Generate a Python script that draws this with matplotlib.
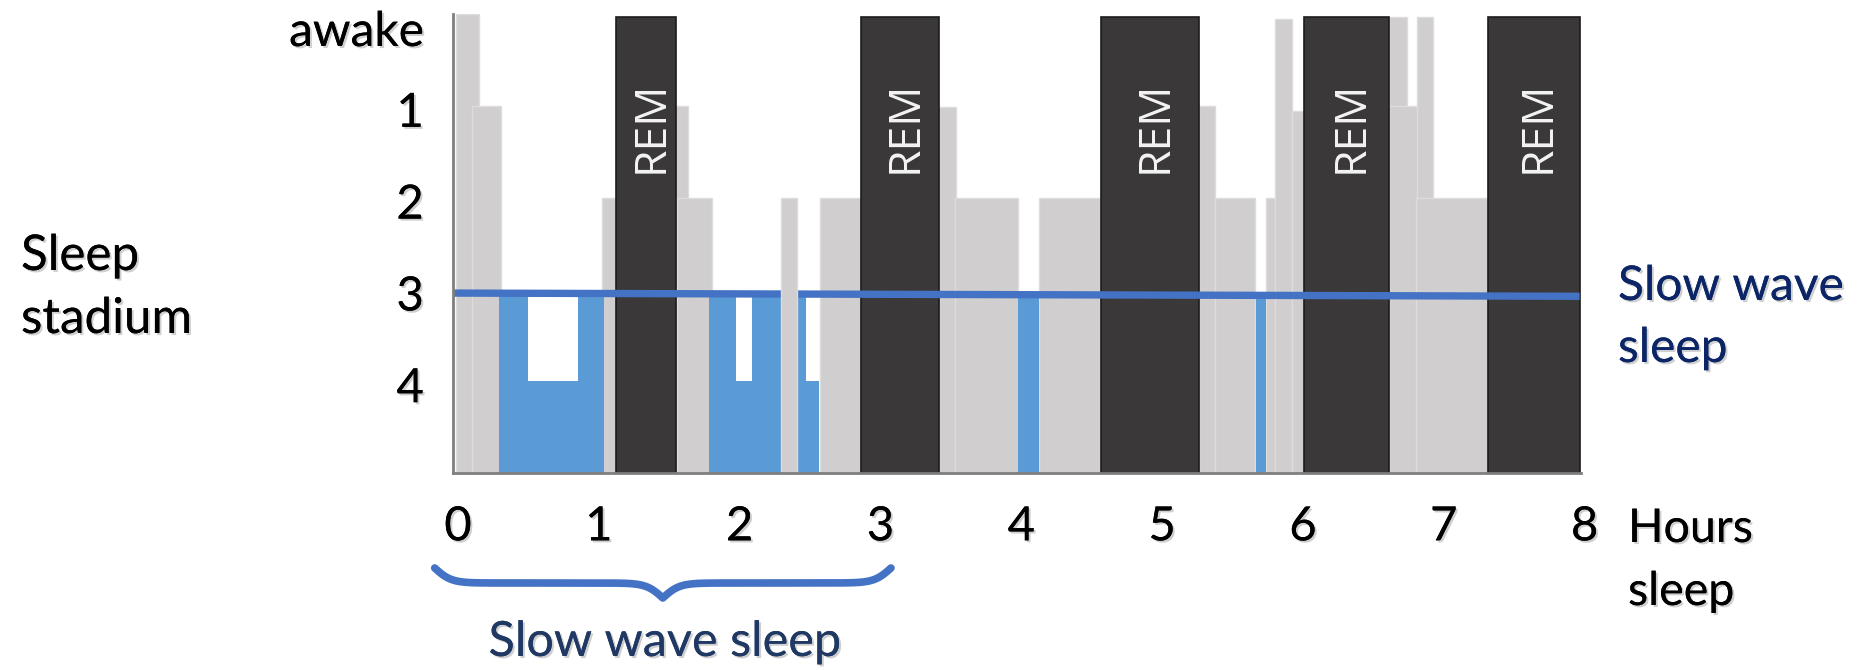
import numpy as np
import matplotlib.pyplot as plt
import matplotlib.patheffects as pe
from matplotlib.transforms import ScaledTranslation

plt.rcParams['font.family'] = ['Lato', 'DejaVu Sans']

# sleep stage as bar height: 5 = awake, 4 = stage 1, 3 = stage 2, 2 = stage 3, 1 = stage 4
gray_start = [0.02, 0.135, 1.057, 1.567, 1.589, 2.326, 2.603, 3.447, 3.567, 4.163,
              5.298, 5.411, 5.773, 5.837, 5.957, 6.645, 6.645, 6.844, 6.837]
gray_end = [0.184, 0.34, 1.156, 1.667, 1.837, 2.44, 2.915, 3.574, 4.014, 4.596,
            5.411, 5.695, 5.957, 5.957, 6.043, 6.773, 6.908, 6.957, 7.355]
gray_level = [5.0, 4.0, 3.0, 4.0, 3.0, 3.0, 3.0, 3.99, 3.0, 3.0,
              4.0, 3.0, 3.0, 4.95, 3.94, 4.97, 4.0, 4.97, 3.0]
gray_front = 5  # this one hides the slow wave line

blue_start = [0.33, 0.53, 0.89, 1.82, 2.01, 2.12, 2.44, 2.51, 4.01, 5.70]
blue_end = [0.53, 0.89, 1.07, 2.01, 2.12, 2.33, 2.51, 2.60, 4.16, 5.77]
blue_level = [1.96, 1, 1.96, 1.96, 1, 1.96, 1.96, 1, 1.95, 1.94]

rem_start = [1.16, 2.90, 4.60, 6.04, 7.35]
rem_end = [1.58, 3.45, 5.30, 6.65, 8.0]
rem_level = 4.97

line_x = [0, 8]
line_y = [1.96, 1.925]

stage_ticks = [5, 4, 3, 2, 1]
stage_labels = ['awake', '1', '2', '3', '4']
hour_ticks = list(range(9))
brace_span = [-0.13, 3.11]

W, H = 1857, 670
shadow = [pe.withSimplePatchShadow(offset=(1.5, -1.5), shadow_rgbFace='#777777', alpha=0.35), pe.Normal()]

fig = plt.figure(figsize=(W / 100, H / 100), dpi=100)
ax = fig.add_axes([453 / W, 197 / H, 1128 / W, 459 / H])

for i in range(len(gray_start)):
    ax.bar(gray_start[i], gray_level[i], width=gray_end[i] - gray_start[i], align='edge',
           color='#D0CECE', edgecolor='#DEDDDD', linewidth=1,
           zorder=5 if i == gray_front else 2)

ax.bar(blue_start, blue_level, width=np.array(blue_end) - np.array(blue_start), align='edge',
       color='#5B9BD5', linewidth=0, zorder=3)

rem_shift = ScaledTranslation(0.05, 0, fig.dpi_scale_trans)
for s, e in zip(rem_start, rem_end):
    ax.bar(s, rem_level, width=e - s, align='edge', color='#3A3838',
           edgecolor='#1C1C1C', linewidth=1.2, zorder=3)
    ax.text((s + e) / 2, 3.77, 'REM', rotation=90, ha='center', va='center',
            color='#F4F4F4', fontsize=32, family='Open Sans', zorder=6,
            transform=ax.transData + rem_shift)

ax.plot(line_x, line_y, color='#4472C4', linewidth=5.3, zorder=4, solid_capstyle='butt')

ax.set_xlim(0, 8.01)
ax.set_ylim(0, 5.0)
for side in ['top', 'right']:
    ax.spines[side].set_visible(False)
for side in ['left', 'bottom']:
    ax.spines[side].set_color('#7F7F7F')
    ax.spines[side].set_linewidth(2)
    ax.spines[side].set_zorder(7)

ax.tick_params(axis='y', length=0, pad=21)
ax.tick_params(axis='x', length=0, pad=24)
ax.set_yticks(stage_ticks)
ax.set_yticklabels(stage_labels, fontsize=34)
ax.set_xticks(hour_ticks)
ax.set_xticklabels([str(h) for h in hour_ticks], fontsize=34)

ylabs = ax.get_yticklabels()
ylabs[0].set_va('top')
ylabs[0].set_fontsize(34.5)
ylabs[0].set_transform(ylabs[0].get_transform() + ScaledTranslation(0, 0.04, fig.dpi_scale_trans))
for lab in ylabs[1:]:
    lab.set_transform(lab.get_transform() + ScaledTranslation(0, -0.04, fig.dpi_scale_trans))
for lab in ax.get_xticklabels():
    lab.set_transform(lab.get_transform() + ScaledTranslation(0.05, 0, fig.dpi_scale_trans))
for lab in ax.get_xticklabels() + ylabs:
    lab.set_path_effects(shadow)

# curly brace under the first hours
x0, x1 = brace_span
half = (x1 - x0) / 2
t = np.linspace(0, half, 300)
beta = 17.0
v = 1 / (1 + np.exp(-beta * t)) + 1 / (1 + np.exp(-beta * (t - half)))
bx = np.concatenate([x0 + t, x1 - t[::-1]])
bv = np.concatenate([v, v[::-1]])
by = (473 - (568 + (bv - 0.5) * 30)) / 459
ax.plot(bx, by, transform=ax.get_xaxis_transform(), clip_on=False,
        color='#4472C4', linewidth=5.5, solid_capstyle='round')

fig.text(21 / W, 1 - 270 / H, 'Sleep', fontsize=35.5, va='baseline', path_effects=shadow)
fig.text(21 / W, 1 - 333 / H, 'stadium', fontsize=35.5, va='baseline', path_effects=shadow)
fig.text(1628 / W, 1 - 542 / H, 'Hours', fontsize=33.5, va='baseline', path_effects=shadow)
fig.text(1628 / W, 1 - 605 / H, 'sleep', fontsize=33.5, va='baseline', path_effects=shadow)
fig.text(1618 / W, 1 - 300 / H, 'Slow wave', fontsize=34.5, va='baseline', color='#0B2566', path_effects=shadow)
fig.text(1618 / W, 1 - 362 / H, 'sleep', fontsize=34.5, va='baseline', color='#0B2566', path_effects=shadow)
fig.text(665 / W, 1 - 656 / H, 'Slow wave sleep', fontsize=35, ha='center', va='baseline',
         color='#1F3864', path_effects=shadow)

fig.savefig('out.png', dpi=100)
